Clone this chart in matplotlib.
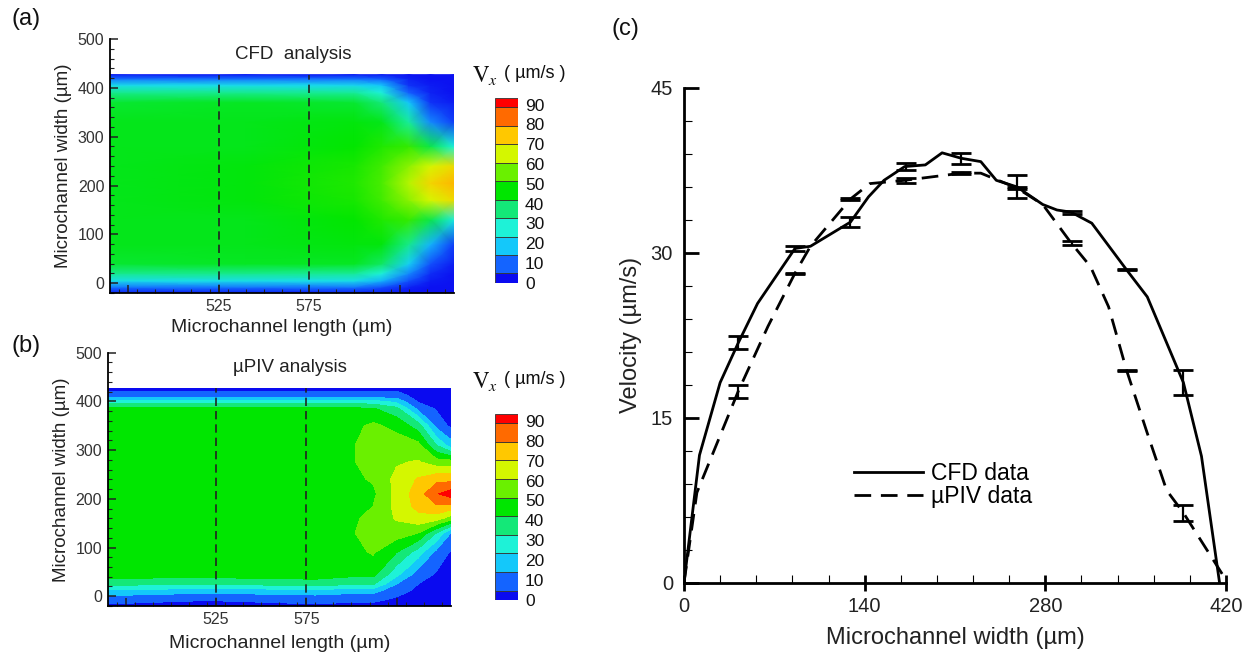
import numpy as np
import matplotlib
matplotlib.use("Agg")
from matplotlib import pyplot as plt
from matplotlib.colors import LinearSegmentedColormap
from matplotlib.ticker import MultipleLocator, FixedLocator
from matplotlib.lines import Line2D

plt.rcParams['font.family'] = ['Liberation Sans', 'DejaVu Sans']
plt.rcParams['mathtext.fontset'] = 'stix'

# colour legend (Tecplot style flood)
band_levels = [0, 5, 15, 25, 35, 45, 55, 65, 75, 85, 95, 100]
band_colors = ['#0a0af0', '#1464ff', '#14c8fa', '#1ef2d7', '#14e878', '#00e600',
               '#6af000', '#d4f700', '#ffc800', '#ff6a00', '#ff0000']
cbar_labels = [0, 10, 20, 30, 40, 50, 60, 70, 80, 90]

# (a) CFD velocity field, coarse samples (um/s)
a_x = [465, 540, 600, 615, 630, 642, 655]
a_y = [-20, -8, 5, 20, 40, 80, 130, 170, 205, 240, 280, 330, 370, 390, 405, 418, 427]
a_v = [
    [2, 2, 2, 2, 1, 1, 1],
    [12, 12, 12, 8, 3, 1, 1],
    [25, 25, 25, 18, 8, 2, 1],
    [38, 38, 37, 30, 14, 4, 1],
    [46, 47, 47, 42, 22, 8, 2],
    [48, 48, 49, 49, 38, 18, 6],
    [48, 48, 50, 53, 55, 44, 28],
    [48, 49, 52, 56, 63, 70, 76],
    [48, 49, 53, 57, 67, 77, 82],
    [48, 49, 52, 56, 63, 70, 76],
    [48, 48, 50, 53, 55, 44, 30],
    [48, 48, 49, 48, 36, 14, 6],
    [46, 47, 46, 40, 20, 5, 2],
    [38, 38, 37, 30, 10, 3, 1],
    [25, 25, 24, 20, 5, 2, 1],
    [12, 12, 12, 10, 3, 1, 1],
    [2, 2, 2, 2, 1, 1, 1],
]

# (b) uPIV velocity field
b_x = [465, 520, 580, 600, 612, 625, 637, 647, 655]
b_y = [-20, -5, 10, 25, 45, 90, 130, 160, 185, 210, 240, 275, 310, 350, 385, 400, 412, 427]
b_v = [
    [3, 2, 3, 2, 2, 2, 1, 1, 1],
    [10, 6, 10, 8, 8, 4, 2, 1, 1],
    [22, 18, 20, 18, 18, 8, 3, 2, 1],
    [38, 35, 40, 36, 36, 15, 5, 2, 1],
    [50, 50, 50, 48, 48, 28, 10, 4, 1],
    [50, 50, 50, 52, 56, 45, 30, 12, 4],
    [50, 50, 50, 54, 60, 60, 55, 35, 15],
    [50, 50, 50, 53, 58, 66, 72, 70, 60],
    [50, 50, 50, 52, 55, 68, 78, 84, 82],
    [50, 50, 50, 52, 53, 68, 80, 94, 100],
    [50, 50, 50, 53, 56, 68, 76, 82, 82],
    [50, 50, 50, 54, 59, 64, 66, 60, 60],
    [50, 50, 50, 54, 60, 60, 58, 35, 20],
    [50, 50, 50, 52, 57, 52, 40, 12, 3],
    [48, 48, 48, 47, 46, 38, 12, 4, 1],
    [30, 30, 30, 30, 28, 22, 4, 2, 1],
    [8, 8, 8, 8, 8, 8, 2, 1, 1],
    [3, 3, 3, 3, 2, 3, 1, 1, 1],
]
section_x = [525, 575]

# (c) velocity profiles across the channel
cfd_x = [0, 12, 28, 42, 57, 86, 98, 129, 143, 155, 171, 187, 200, 215, 230, 242,
         258, 278, 289, 300, 316, 343, 359, 387, 401, 415]
cfd_y = [0, 11.6, 18.2, 21.8, 25.4, 30.4, 30.6, 32.8, 35.1, 36.6, 37.85, 38.0, 39.1,
         38.6, 38.3, 36.6, 36.0, 34.4, 33.9, 33.7, 32.7, 28.45, 26.0, 18.2, 11.5, 0]
piv_x = [0, 10, 42, 65, 86, 98, 129, 144, 171, 215, 230, 258, 278, 300, 315, 329,
         343, 359, 374, 387, 417]
piv_y = [0, 8.2, 17.4, 23.3, 28.15, 30.6, 34.9, 36.3, 36.6, 37.25, 37.25, 35.9, 34.4,
         30.9, 28.75, 25.1, 19.3, 13.6, 8.4, 6.35, 0.8]
err_x = [42, 86, 129, 172, 215, 258, 301, 343, 387]
cfd_mean = [21.85, 30.4, 32.8, 37.85, 38.6, 36.05, 33.7, 28.45, 18.2]
cfd_err = [0.55, 0.23, 0.47, 0.3, 0.48, 1.05, 0.15, 0.04, 1.1]
piv_mean = [17.4, 28.15, 34.9, 36.6, 37.25, 35.9, 30.9, 19.3, 6.35]
piv_err = [0.6, 0.04, 0.05, 0.22, 0.08, 0.1, 0.22, 0.04, 0.72]

fig = plt.figure(figsize=(12.5, 6.53), dpi=100)

smooth = LinearSegmentedColormap.from_list(
    'vx', [(i / 10, c) for i, c in enumerate(band_colors)])


def field_axes(ax, title, xlabel, xpad):
    ax.set_xlim(465, 655)
    ax.set_ylim(-20, 500)
    for s in ['top', 'right']:
        ax.spines[s].set_visible(False)
    for s in ['left', 'bottom']:
        ax.spines[s].set_linewidth(1.3)
    ax.xaxis.set_major_locator(FixedLocator([475, 525, 575, 625]))
    ax.set_xticklabels(['', '525', '575', ''])
    ax.xaxis.set_minor_locator(MultipleLocator(10))
    ax.set_yticks([0, 100, 200, 300, 400, 500])
    ax.yaxis.set_minor_locator(MultipleLocator(20))
    ax.tick_params(which='both', direction='in', colors='#222', labelsize=11.5, labelcolor='#333')
    ax.tick_params(which='major', length=6, width=1.1, pad=4)
    ax.tick_params(which='minor', length=3, width=0.8)
    ax.set_xlabel(xlabel, fontsize=14, color='#222', labelpad=xpad)
    ax.set_ylabel('Microchannel width (µm)', fontsize=13.5, color='#222', labelpad=4)
    ax.text(0.532, 0.94, title, transform=ax.transAxes, ha='center', va='center',
            fontsize=13.5, color='#222')
    top = max(a_y)
    for xs in section_x:
        ax.plot([xs, xs], [-20, top], color='#222', ls=(0, (5, 3)), lw=1.2)


def colour_legend(cax, title_y):
    for lo, hi, c in zip(band_levels[:-1], band_levels[1:], band_colors):
        cax.bar(0, hi - lo, bottom=lo, width=1, color=c, edgecolor='#333', linewidth=0.6)
    cax.set_xlim(-0.5, 0.5)
    cax.set_ylim(0, 100)
    cax.set_xticks([])
    for s in cax.spines.values():
        s.set_visible(False)
    cax.yaxis.tick_right()
    cax.set_yticks([v * 1.07 for v in cbar_labels])
    cax.set_yticklabels([str(v) for v in cbar_labels])
    cax.tick_params(length=0, pad=5, labelsize=12.5, labelcolor='#111')
    fig.text(0.3776, title_y, r'$\mathrm{V}_{x}$', fontsize=16.5,
             ha='left', va='center', color='#111')
    fig.text(0.4035, title_y + 0.002, '( µm/s )', fontsize=13,
             ha='left', va='center', color='#111')


# panel (a)
ax_a = fig.add_axes([0.088, 0.5513, 0.2752, 0.389])
AX, AY = np.meshgrid(a_x, a_y)
ax_a.pcolormesh(AX, AY, np.array(a_v, float), cmap=smooth, vmin=0, vmax=100,
                shading='gouraud', zorder=0)
field_axes(ax_a, 'CFD  analysis', 'Microchannel length (µm)', 4)
cax_a = fig.add_axes([0.396, 0.567, 0.0184, 0.2833])
colour_legend(cax_a, 0.885)

# panel (b)
ax_b = fig.add_axes([0.0862, 0.072, 0.2744, 0.388])
BX, BY = np.meshgrid(b_x, b_y)
ax_b.contourf(BX, BY, np.array(b_v, float), levels=band_levels, colors=band_colors, zorder=0)
field_axes(ax_b, 'µPIV analysis', 'Microchannel length (µm)', 6)
cax_b = fig.add_axes([0.396, 0.0812, 0.0184, 0.2848])
colour_legend(cax_b, 0.4165)

# panel (c)
ax_c = fig.add_axes([0.5472, 0.1077, 0.4336, 0.7576])
ax_c.plot(cfd_x, cfd_y, color='black', lw=2.0, label='CFD data')
ax_c.plot(piv_x, piv_y, color='black', lw=2.0, ls=(0, (6, 3.5)), label='µPIV data')
ax_c.errorbar(err_x, cfd_mean, yerr=cfd_err, fmt='none', ecolor='black', elinewidth=1.6,
              capsize=7, capthick=2)
ax_c.errorbar(err_x, piv_mean, yerr=piv_err, fmt='none', ecolor='black', elinewidth=1.6,
              capsize=7, capthick=2)
ax_c.set_xlim(0, 420)
ax_c.set_ylim(0, 45)
for s in ['top', 'right']:
    ax_c.spines[s].set_visible(False)
for s in ['left', 'bottom']:
    ax_c.spines[s].set_linewidth(2)
ax_c.set_xticks([0, 140, 280, 420])
ax_c.xaxis.set_minor_locator(MultipleLocator(28))
ax_c.set_yticks([0, 15, 30, 45])
ax_c.yaxis.set_minor_locator(MultipleLocator(3))
ax_c.tick_params(which='both', labelsize=14.5, labelcolor='#222')
ax_c.tick_params(axis='x', which='major', direction='inout', length=12, width=2, pad=4)
ax_c.tick_params(axis='y', which='major', direction='in', length=11, width=2, pad=8)
ax_c.tick_params(which='minor', direction='in', length=6, width=0.8)
ax_c.set_xlabel('Microchannel width (µm)', fontsize=17, color='#222', labelpad=8)
ax_c.set_ylabel('Velocity (µm/s)', fontsize=17, color='#222', labelpad=6)
handles = [Line2D([], [], color='black', lw=2.0),
           Line2D([], [], color='black', lw=2.0, ls=(0, (6, 3.5)))]
ax_c.legend(handles, ['CFD data', 'µPIV data'], loc='upper left',
            bbox_to_anchor=(0.314, 0.243), frameon=False, fontsize=16.5,
            handlelength=3.0, handletextpad=0.35, labelspacing=0.0,
            borderpad=0, borderaxespad=0)

fig.text(0.009, 0.988, '(a)', fontsize=17, va='top', ha='left', color='#111')
fig.text(0.009, 0.487, '(b)', fontsize=17, va='top', ha='left', color='#111')
fig.text(0.489, 0.972, '(c)', fontsize=17, va='top', ha='left', color='#111')

fig.savefig('out.png', dpi=100)
